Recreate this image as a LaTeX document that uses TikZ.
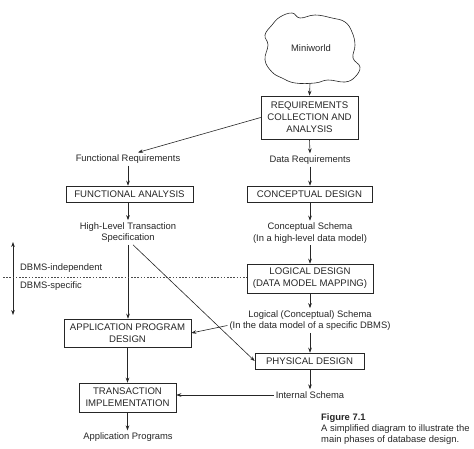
\documentclass[tikz,border=0pt]{standalone}
\usepackage{fontspec}
\setmainfont{Liberation Sans}
\usetikzlibrary{arrows.meta,calc}
\begin{document}
\begin{tikzpicture}[x=1pt,y=-1pt,
  every node/.style={font=\fontsize{9.4}{11.5}\selectfont, text=black!85},
  box/.style n args={2}{draw=black!85, line width=0.6pt, inner sep=0pt, align=center,
    minimum width=#1, minimum height=#2, font=\fontsize{9.6}{12}\selectfont},
  lbl/.style={inner sep=2pt, align=center},
  arr/.style={draw=black!85, line width=0.6pt, -{Stealth[length=5pt,width=3.6pt]}},
  ln/.style={draw=black!85, line width=0.6pt},
  dbl/.style={draw=black!85, line width=0.6pt, {Stealth[length=5pt,width=3.6pt]}-{Stealth[length=5pt,width=3.6pt]}},
  sep/.style={draw=black!70, line width=0.6pt, dash pattern=on 1.6pt off 1.6pt}
]
\useasboundingbox (0,0) rectangle (474,449);

% cloud
\draw[ln] plot[smooth cycle, tension=0.7] coordinates {
 (272,25) (280,17) (292,13) (300,18) (315,15) (332,18) (345,22) (352,32)
 (355,45) (353,58) (360,67) (355,77) (345,82) (328,80) (315,83) (295,83)
 (282,78) (272,72) (265,60) (268,45) (265,35)};
\node (mw) at (311,48) {Miniworld};
\coordinate (cb) at (310,83);

% boxes
\node[box={97pt}{43pt}] (req) at (309.5,117.5) {REQUIREMENTS\\COLLECTION AND\\ANALYSIS};
\node[box={127pt}{16pt}] (func) at (129.5,194) {FUNCTIONAL ANALYSIS};
\node[box={125pt}{16pt}] (concept) at (309.5,194) {CONCEPTUAL DESIGN};
\node[box={126pt}{29pt}] (logical) at (310,278.5) {LOGICAL DESIGN\\(DATA MODEL MAPPING)};
\node[box={127pt}{28pt}] (appd) at (127.5,333) {APPLICATION PROGRAM\\DESIGN};
\node[box={109pt}{16pt}] (phys) at (309.5,361) {PHYSICAL DESIGN};
\node[box={97pt}{29pt}] (trans) at (127.5,397.5) {TRANSACTION\\IMPLEMENTATION};

% labels
\node[lbl] (freq) at (128,159) {Functional Requirements};
\node[lbl] (dreq) at (310,160) {Data Requirements};
\node[lbl] (hlts) at (128,232.5) {High-Level Transaction\\Specification};
\node[lbl] (cs) at (310,233) {Conceptual Schema\\(In a high-level data model)};
\node[lbl] (lcs) at (310,320.5) {Logical (Conceptual) Schema\\(In the data model of a specific DBMS)};
\node[lbl] (is) at (310,395) {Internal Schema};
\node[lbl] (ap) at (128,437) {Application Programs};
\node[inner sep=0pt, anchor=west] (dind) at (20,268) {DBMS-independent};
\node[inner sep=0pt, anchor=west] (dspe) at (20,286) {DBMS-specific};

% caption
\node[inner sep=0pt, anchor=west, align=left, font=\fontsize{9.4}{10.8}\selectfont] (cap) at (321,429)
  {\textbf{Figure 7.1}\\A simplified diagram to illustrate the\\main phases of database design.};

% connectors
\draw[arr] (cb) -- (req.north);
\draw[arr] (req.west) -- ([xshift=10pt]freq.north);
\draw[arr] (req.south) -- (dreq.north);
\draw[arr] (freq.south) -- (func.north -| freq.south);
\draw[arr] (dreq.south) -- (concept.north -| dreq.south);
\draw[arr] (func.south -| hlts.north) -- (hlts.north);
\draw[arr] (concept.south -| cs.north) -- (cs.north);
\draw[arr] (hlts.south) -- (appd.north -| hlts.south);
\draw[arr] ([xshift=5pt]hlts.south) -- (phys.west);
\draw[arr] (cs.south) -- (logical.north -| cs.south);
\draw[arr] (logical.south -| lcs.north) -- (lcs.north);
\draw[arr] (lcs.south) -- (phys.north -| lcs.south);
\draw[arr] ([yshift=-5pt]lcs.west) -- (appd.east);
\draw[arr] (phys.south -| is.north) -- (is.north);
\draw[arr] (is.west) -- (is.west -| trans.east);
\draw[arr] (appd.south) -- (trans.north);
\draw[arr] (trans.south) -- (ap.north -| trans.south);

% DBMS separation
\coordinate (dtop) at (13,242);
\coordinate (dbot) at (13,315);
\draw[dbl] (dtop) -- (dbot);
\coordinate (dl) at (3,277);
\draw[sep] (dl) -- (dl -| logical.west);
\end{tikzpicture}
\end{document}
